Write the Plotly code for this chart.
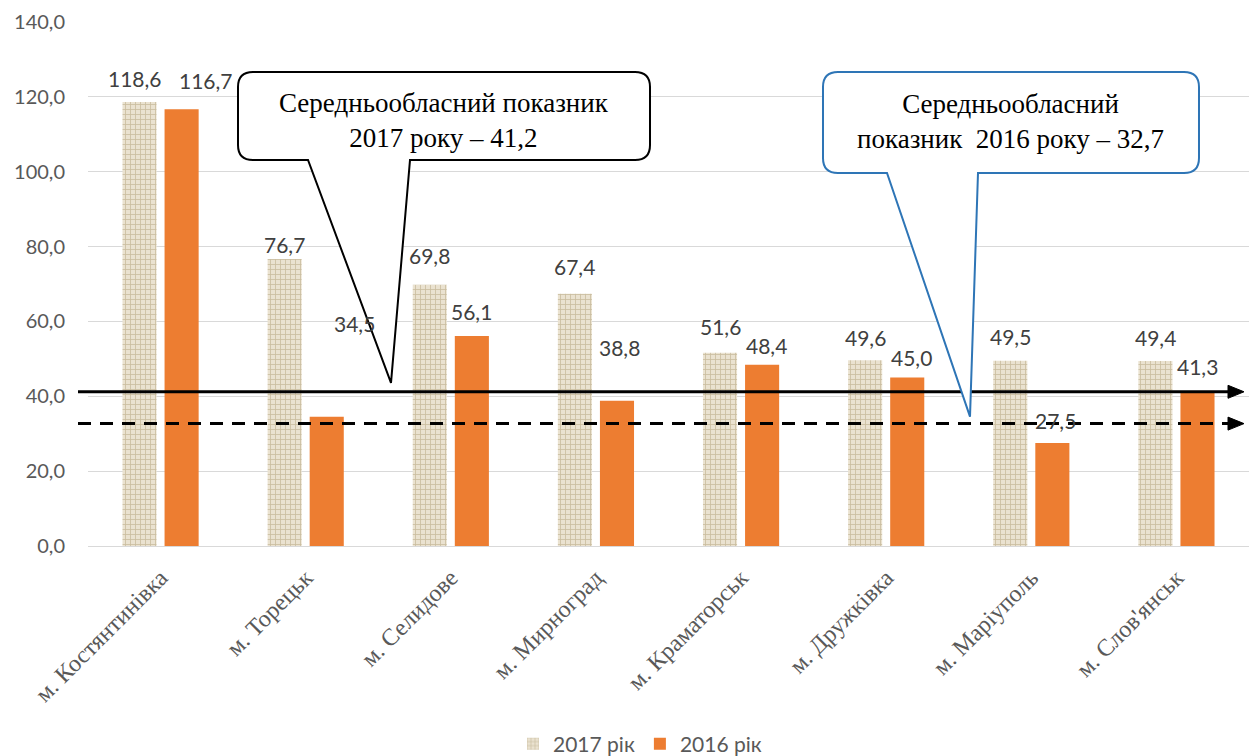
import plotly.graph_objects as go

# Cities and indicator values
cities = [
    "м. Костянтинівка", "м. Торецьк", "м. Селидове", "м. Мирноград",
    "м. Краматорськ", "м. Дружківка", "м. Маріуполь", "м. Слов'янськ",
]
values_2017 = [118.6, 76.7, 69.8, 67.4, 51.6, 49.6, 49.5, 49.4]
values_2016 = [116.7, 34.5, 56.1, 38.8, 48.4, 45.0, 27.5, 41.3]
regional_avg_2017 = 41.2
regional_avg_2016 = 32.7
y_ticks = [0, 20, 40, 60, 80, 100, 120, 140]

# Offsets (px) of each value label from the top centre of its bar
lift_2017 = [24, 14, 29, 27, 26, 23, 24, 24]
lift_2016 = [29, 93, 25, 53, 19, 20, 23, 25]
nudge_2017 = [-5, 0, 0, 0, 0, 0, 0, 0]
nudge_2016 = [24, 28, 0, 3, 4, 4, 3, 0]

W, H = 1254, 756
ML, MR, MT, MB = 88, 5, 22, 210
PW, PH = W - ML - MR, H - MT - MB
YMAX = y_ticks[-1]


def fx(px):
    """pixel x -> paper x"""
    return (px - ML) / PW


def fy(py):
    """pixel y -> paper y"""
    return (H - MB - py) / PH


def dpx(pix):
    """pixel height -> data units"""
    return pix / PH * YMAX


def fmt(v):
    return f"{v:.1f}".replace(".", ",")


SANS = "Lato, Open Sans, sans-serif"
SERIF = "Liberation Serif, Times New Roman, serif"

fig = go.Figure()
fig.add_trace(go.Bar(
    name="2017 рік", x=cities, y=values_2017,
    marker=dict(
        color="#E6DDC8",
        line=dict(width=0),
        pattern=dict(shape="+", bgcolor="#EAE2D0", fgcolor="#CABD9F",
                     size=5, solidity=0.3, fillmode="replace"),
    ),
))
fig.add_trace(go.Bar(
    name="2016 рік", x=cities, y=values_2016,
    marker=dict(color="#ED7D31", line=dict(width=0)),
))

# Value labels above the bars
annotations = []
for i, c in enumerate(cities):
    for vals, lifts, nudges, shift in (
        (values_2017, lift_2017, nudge_2017, -21),
        (values_2016, lift_2016, nudge_2016, 21),
    ):
        annotations.append(dict(
            x=c, y=vals[i], xref="x", yref="y", text=fmt(vals[i]),
            showarrow=False, xshift=shift + nudges[i], yshift=lifts[i],
            xanchor="center", yanchor="middle",
            font=dict(family=SANS, size=21, color="#404040"),
        ))

shapes = []

# Regional average lines with arrowheads
for val, dash in ((regional_avg_2017, "solid"), (regional_avg_2016, "13px,9px")):
    shapes.append(dict(
        type="line", xref="paper", yref="y",
        x0=fx(78), x1=fx(1232), y0=val, y1=val,
        line=dict(color="black", width=3, dash=dash), layer="above",
    ))
    h = dpx(6.5)
    shapes.append(dict(
        type="path", xref="paper", yref="y",
        path=(f"M {fx(1228)} {val + h} L {fx(1244)} {val} "
              f"L {fx(1228)} {val - h} Z"),
        fillcolor="black", line=dict(color="black", width=1), layer="above",
    ))


def callout(left, right, top, bottom, tail0, tail1, tip_x, tip_val, r=15):
    P = lambda x, y: f"{fx(x):.5f},{fy(y):.5f}"
    tip = f"{fx(tip_x):.5f},{tip_val / YMAX:.5f}"
    return (
        f"M {P(left + r, top)} L {P(right - r, top)} "
        f"Q {P(right, top)} {P(right, top + r)} "
        f"L {P(right, bottom - r)} Q {P(right, bottom)} {P(right - r, bottom)} "
        f"L {P(tail1, bottom)} L {tip} L {P(tail0, bottom)} "
        f"L {P(left + r, bottom)} Q {P(left, bottom)} {P(left, bottom - r)} "
        f"L {P(left, top + r)} Q {P(left, top)} {P(left + r, top)} Z"
    )


shapes.append(dict(
    type="path", xref="paper", yref="paper",
    path=callout(238, 650, 72, 160, 308, 410, 391, regional_avg_2017 + dpx(9)),
    fillcolor="white", line=dict(color="black", width=2), layer="above",
))
shapes.append(dict(
    type="path", xref="paper", yref="paper",
    path=callout(823, 1199, 72, 173, 887, 978, 970, regional_avg_2016 + dpx(7)),
    fillcolor="white", line=dict(color="#2E75B6", width=2), layer="above",
))

annotations.append(dict(
    xref="paper", yref="paper", x=fx(444), y=fy(120),
    text="Середньообласний показник<br>2017 року – " + fmt(regional_avg_2017),
    showarrow=False, xanchor="center", yanchor="middle", align="center",
    font=dict(family=SERIF, size=27, color="black"),
))
annotations.append(dict(
    xref="paper", yref="paper", x=fx(1010), y=fy(121),
    text="Середньообласний<br>показник\u00a0 2016 року – " + fmt(regional_avg_2016),
    showarrow=False, xanchor="center", yanchor="middle", align="center",
    font=dict(family=SERIF, size=27, color="black"),
))

fig.update_layout(
    width=W, height=H,
    margin=dict(l=ML, r=MR, t=MT, b=MB, pad=0, autoexpand=False),
    paper_bgcolor="white", plot_bgcolor="white",
    barmode="group", bargap=0.42, bargroupgap=0.19,
    separators=", ",
    showlegend=True,
    legend=dict(
        orientation="h", x=fx(640), y=fy(744), xanchor="center", yanchor="middle",
        font=dict(family=SANS, size=21, color="#595959"),
        bgcolor="rgba(0,0,0,0)",
    ),
    xaxis=dict(
        tickangle=-45, showgrid=False, showline=False, zeroline=False,
        ticks="", ticklabelstandoff=12, automargin=False,
        tickfont=dict(family=SERIF, size=24, color="#595959"),
    ),
    yaxis=dict(
        range=[0, YMAX], tickvals=y_ticks, tickformat=".1f",
        showgrid=True, gridcolor="#D9D9D9", gridwidth=1,
        zeroline=True, zerolinecolor="#D9D9D9", zerolinewidth=1,
        showline=False, ticks="", ticklabelstandoff=22, automargin=False,
        tickfont=dict(family=SANS, size=20, color="#595959"),
    ),
    shapes=shapes,
    annotations=annotations,
)

fig.write_html("out.html")
